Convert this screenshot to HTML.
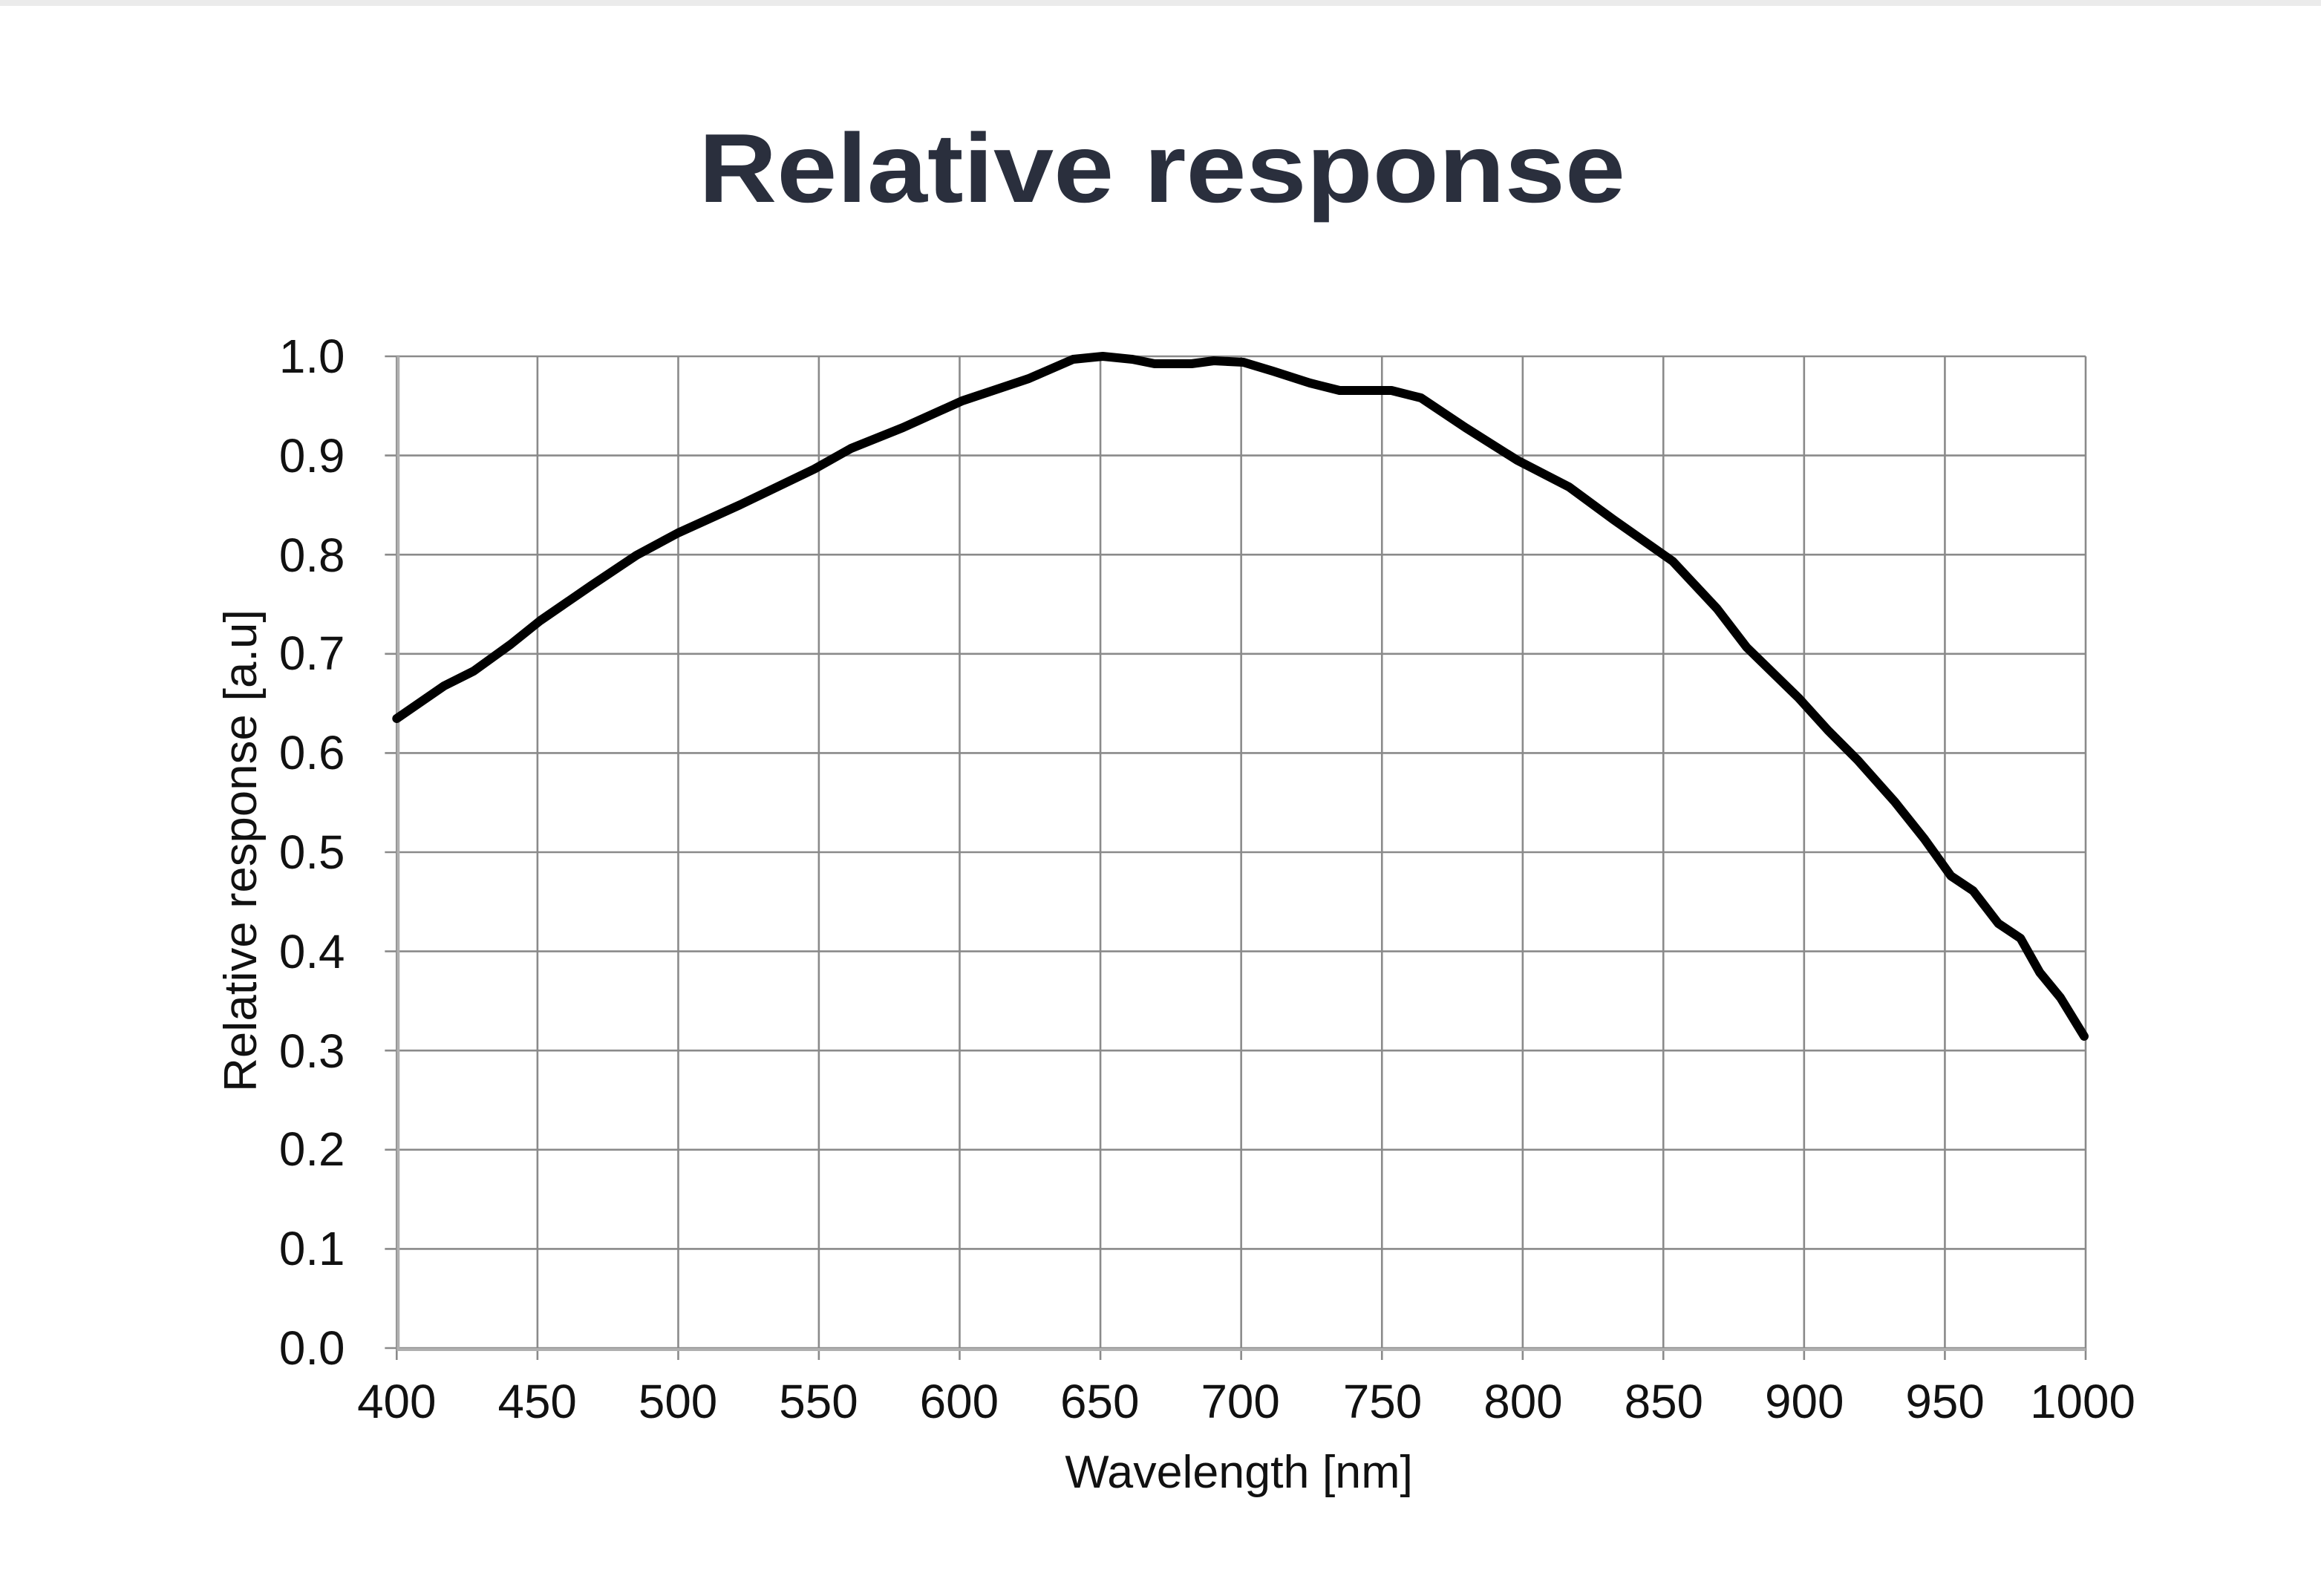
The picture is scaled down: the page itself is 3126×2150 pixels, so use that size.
<!DOCTYPE html>
<html><head><meta charset="utf-8"><style>
html,body{margin:0;padding:0;background:#fff;}
svg{display:block;}
</style></head><body>
<svg width="3126" height="2150" viewBox="0 0 1568 1075" preserveAspectRatio="none" xmlns="http://www.w3.org/2000/svg">
<rect x="0" y="0" width="1568" height="4" fill="#ebebeb"/>
<text x="785" y="136" text-anchor="middle" font-family="Liberation Sans, sans-serif" font-weight="bold" font-size="66" fill="#2a2f3d" textLength="626" lengthAdjust="spacingAndGlyphs">Relative response</text>
<g stroke="#8a8a8a" stroke-width="1.3" fill="none">
<line x1="260" y1="240" x2="1409" y2="240"/>
<line x1="260" y1="306.8" x2="1409" y2="306.8"/>
<line x1="260" y1="373.6" x2="1409" y2="373.6"/>
<line x1="260" y1="440.4" x2="1409" y2="440.4"/>
<line x1="260" y1="507.2" x2="1409" y2="507.2"/>
<line x1="260" y1="574" x2="1409" y2="574"/>
<line x1="260" y1="640.8" x2="1409" y2="640.8"/>
<line x1="260" y1="707.6" x2="1409" y2="707.6"/>
<line x1="260" y1="774.4" x2="1409" y2="774.4"/>
<line x1="260" y1="841.2" x2="1409" y2="841.2"/>
<line x1="260" y1="908" x2="1409" y2="908"/>
<line x1="268" y1="240" x2="268" y2="916"/>
<line x1="363.1" y1="240" x2="363.1" y2="916"/>
<line x1="458.2" y1="240" x2="458.2" y2="916"/>
<line x1="553.2" y1="240" x2="553.2" y2="916"/>
<line x1="648.3" y1="240" x2="648.3" y2="916"/>
<line x1="743.4" y1="240" x2="743.4" y2="916"/>
<line x1="838.5" y1="240" x2="838.5" y2="916"/>
<line x1="933.6" y1="240" x2="933.6" y2="916"/>
<line x1="1028.7" y1="240" x2="1028.7" y2="916"/>
<line x1="1123.7" y1="240" x2="1123.7" y2="916"/>
<line x1="1218.8" y1="240" x2="1218.8" y2="916"/>
<line x1="1313.9" y1="240" x2="1313.9" y2="916"/>
<line x1="1409" y1="240" x2="1409" y2="916"/>
</g>
<g stroke="#b0b0b0" stroke-width="2"><line x1="269" y1="240" x2="269" y2="908"/><line x1="268" y1="909" x2="1409" y2="909"/></g>
<path d="M268,484 L300,462 L320,452 L345,434 L365,418 L400,394 L430,374 L458,359 L500,340 L550,316 L575,302 L610,288 L650,270 L695,255 L725,242 L745,240 L765,242 L780,245 L805,245 L820,243 L840,244 L860,250 L885,258 L905,263 L940,263 L960,268 L990,288 L1025,310 L1060,328 L1090,350 L1130,378 L1160,410 L1180,436 L1215,470 L1235,492 L1255,512 L1280,540 L1300,565 L1318,590 L1333,600 L1350,622 L1365,632 L1378,655 L1392,672 L1408,698" fill="none" stroke="#000" stroke-width="6" stroke-linejoin="round" stroke-linecap="round"/>
<g font-family="Liberation Sans, sans-serif" font-size="32" fill="#111" text-anchor="end">
<text x="233" y="251">1.0</text>
<text x="233" y="318">0.9</text>
<text x="233" y="385">0.8</text>
<text x="233" y="451">0.7</text>
<text x="233" y="518">0.6</text>
<text x="233" y="585">0.5</text>
<text x="233" y="652">0.4</text>
<text x="233" y="719">0.3</text>
<text x="233" y="785">0.2</text>
<text x="233" y="852">0.1</text>
<text x="233" y="919">0.0</text>
</g>
<g font-family="Liberation Sans, sans-serif" font-size="32" fill="#111" text-anchor="middle">
<text x="268" y="955">400</text>
<text x="363" y="955">450</text>
<text x="458" y="955">500</text>
<text x="553" y="955">550</text>
<text x="648" y="955">600</text>
<text x="743" y="955">650</text>
<text x="838" y="955">700</text>
<text x="934" y="955">750</text>
<text x="1029" y="955">800</text>
<text x="1124" y="955">850</text>
<text x="1219" y="955">900</text>
<text x="1314" y="955">950</text>
<text x="1407" y="955">1000</text>
</g>
<text x="837" y="1002" text-anchor="middle" font-family="Liberation Sans, sans-serif" font-size="31" fill="#111" textLength="235" lengthAdjust="spacingAndGlyphs">Wavelength [nm]</text>
<text transform="translate(173,573) rotate(-90)" text-anchor="middle" font-family="Liberation Sans, sans-serif" font-size="31" fill="#111" textLength="325" lengthAdjust="spacingAndGlyphs">Relative response [a.u]</text>
</svg>
</body></html>
